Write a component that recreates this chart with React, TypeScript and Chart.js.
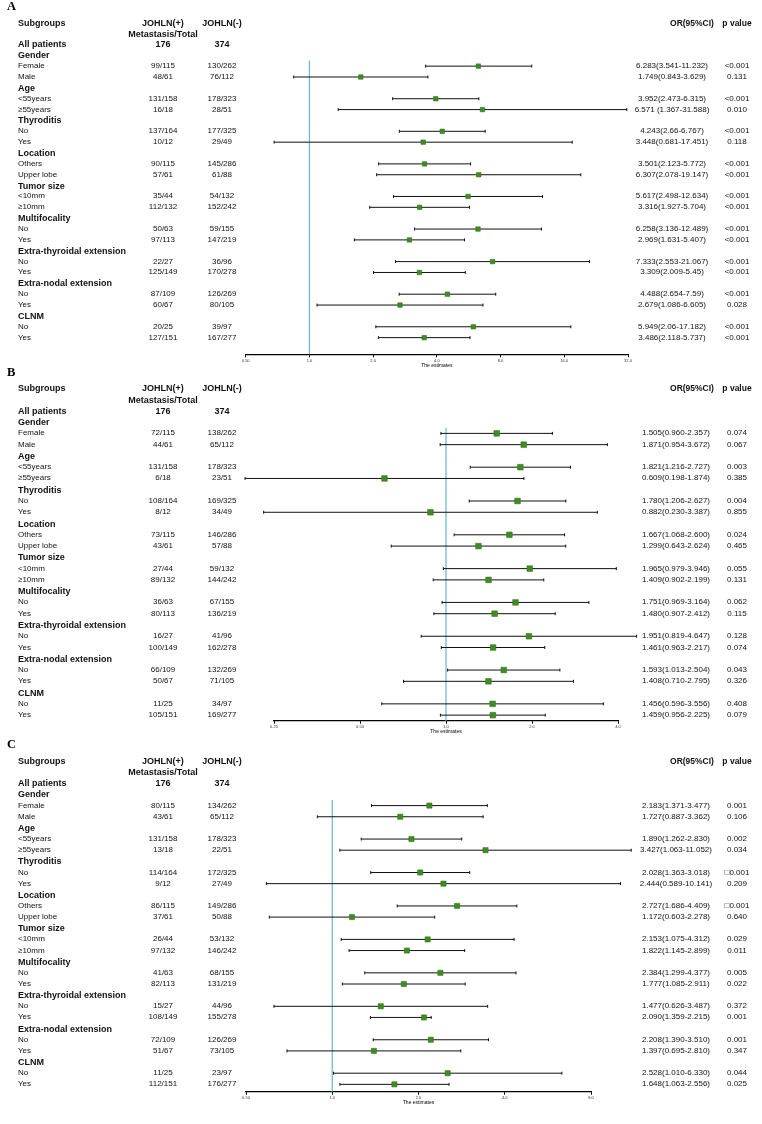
import { useEffect, useRef, useState } from "react";
import { Chart, registerables } from "chart.js";

Chart.register(...registerables);

// ---------- shared row structure ----------
const groups = [
  "Gender",
  "Age",
  "Thyroditis",
  "Location",
  "Tumor size",
  "Multifocality",
  "Extra-thyroidal extension",
  "Extra-nodal extension",
  "CLNM",
];
const levels = [
  ["Female", "Male"],
  ["<55years", "≥55years"],
  ["No", "Yes"],
  ["Others", "Upper lobe"],
  ["<10mm", "≥10mm"],
  ["No", "Yes"],
  ["No", "Yes"],
  ["No", "Yes"],
  ["No", "Yes"],
];
const totalPos = "176";
const totalNeg = "374";

// ---------- panel A ----------
const posA = ["99/115", "48/61", "131/158", "16/18", "137/164", "10/12", "90/115", "57/61", "35/44", "112/132", "50/63", "97/113", "22/27", "125/149", "87/109", "60/67", "20/25", "127/151"];
const negA = ["130/262", "76/112", "178/323", "28/51", "177/325", "29/49", "145/286", "61/88", "54/132", "152/242", "59/155", "147/219", "36/96", "170/278", "126/269", "80/105", "39/97", "167/277"];
const orA = [6.283, 1.749, 3.952, 6.571, 4.243, 3.448, 3.501, 6.307, 5.617, 3.316, 6.258, 2.969, 7.333, 3.309, 4.488, 2.679, 5.949, 3.486];
const loA = [3.541, 0.843, 2.473, 1.367, 2.66, 0.681, 2.123, 2.078, 2.498, 1.927, 3.136, 1.631, 2.553, 2.009, 2.654, 1.086, 2.06, 2.118];
const hiA = [11.232, 3.629, 6.315, 31.588, 6.767, 17.451, 5.772, 19.147, 12.634, 5.704, 12.489, 5.407, 21.067, 5.45, 7.59, 6.605, 17.182, 5.737];
const ciA = ["6.283(3.541-11.232)", "1.749(0.843-3.629)", "3.952(2.473-6.315)", "6.571 (1.367-31.588)", "4.243(2.66-6.767)", "3.448(0.681-17.451)", "3.501(2.123-5.772)", "6.307(2.078-19.147)", "5.617(2.498-12.634)", "3.316(1.927-5.704)", "6.258(3.136-12.489)", "2.969(1.631-5.407)", "7.333(2.553-21.067)", "3.309(2.009-5.45)", "4.488(2.654-7.59)", "2.679(1.086-6.605)", "5.949(2.06-17.182)", "3.486(2.118-5.737)"];
const pA = ["<0.001", "0.131", "<0.001", "0.010", "<0.001", "0.118", "<0.001", "<0.001", "<0.001", "<0.001", "<0.001", "<0.001", "<0.001", "<0.001", "<0.001", "0.028", "<0.001", "<0.001"];
const ticksA = [0.5, 1, 2, 4, 8, 16, 32];

// ---------- panel B ----------
const posB = ["72/115", "44/61", "131/158", "6/18", "108/164", "8/12", "73/115", "43/61", "27/44", "89/132", "36/63", "80/113", "16/27", "100/149", "66/109", "50/67", "11/25", "105/151"];
const negB = ["138/262", "65/112", "178/323", "23/51", "169/325", "34/49", "146/286", "57/88", "59/132", "144/242", "67/155", "136/219", "41/96", "162/278", "132/269", "71/105", "34/97", "169/277"];
const orB = [1.505, 1.871, 1.821, 0.609, 1.78, 0.882, 1.667, 1.299, 1.965, 1.409, 1.751, 1.48, 1.951, 1.461, 1.593, 1.408, 1.456, 1.459];
const loB = [0.96, 0.954, 1.216, 0.198, 1.206, 0.23, 1.068, 0.643, 0.979, 0.902, 0.969, 0.907, 0.819, 0.963, 1.013, 0.71, 0.596, 0.956];
const hiB = [2.357, 3.672, 2.727, 1.874, 2.627, 3.387, 2.6, 2.624, 3.946, 2.199, 3.164, 2.412, 4.647, 2.217, 2.504, 2.795, 3.556, 2.225];
const ciB = ["1.505(0.960-2.357)", "1.871(0.954-3.672)", "1.821(1.216-2.727)", "0.609(0.198-1.874)", "1.780(1.206-2.627)", "0.882(0.230-3.387)", "1.667(1.068-2.600)", "1.299(0.643-2.624)", "1.965(0.979-3.946)", "1.409(0.902-2.199)", "1.751(0.969-3.164)", "1.480(0.907-2.412)", "1.951(0.819-4.647)", "1.461(0.963-2.217)", "1.593(1.013-2.504)", "1.408(0.710-2.795)", "1.456(0.596-3.556)", "1.459(0.956-2.225)"];
const pB = ["0.074", "0.067", "0.003", "0.385", "0.004", "0.855", "0.024", "0.465", "0.055", "0.131", "0.062", "0.115", "0.128", "0.074", "0.043", "0.326", "0.408", "0.079"];
const ticksB = [0.25, 0.5, 1, 2, 4];

// ---------- panel C ----------
const posC = ["80/115", "43/61", "131/158", "13/18", "114/164", "9/12", "86/115", "37/61", "26/44", "97/132", "41/63", "82/113", "15/27", "108/149", "72/109", "51/67", "11/25", "112/151"];
const negC = ["134/262", "65/112", "178/323", "22/51", "172/325", "27/49", "149/286", "50/88", "53/132", "146/242", "68/155", "131/219", "44/96", "155/278", "126/269", "73/105", "23/97", "176/277"];
const orC = [2.183, 1.727, 1.89, 3.427, 2.028, 2.444, 2.727, 1.172, 2.153, 1.822, 2.384, 1.777, 1.477, 2.09, 2.208, 1.397, 2.528, 1.648];
const loC = [1.371, 0.887, 1.262, 1.063, 1.363, 0.589, 1.686, 0.603, 1.075, 1.145, 1.299, 1.085, 0.626, 1.359, 1.39, 0.695, 1.01, 1.063];
const hiC = [3.477, 3.362, 2.83, 11.052, 3.018, 10.141, 4.409, 2.278, 4.312, 2.899, 4.377, 2.911, 3.487, 2.215, 3.51, 2.81, 6.33, 2.556];
const ciC = ["2.183(1.371-3.477)", "1.727(0.887-3.362)", "1.890(1.262-2.830)", "3.427(1.063-11.052)", "2.028(1.363-3.018)", "2.444(0.589-10.141)", "2.727(1.686-4.409)", "1.172(0.603-2.278)", "2.153(1.075-4.312)", "1.822(1.145-2.899)", "2.384(1.299-4.377)", "1.777(1.085-2.911)", "1.477(0.626-3.487)", "2.090(1.359-2.215)", "2.208(1.390-3.510)", "1.397(0.695-2.810)", "2.528(1.010-6.330)", "1.648(1.063-2.556)"];
const pC = ["0.001", "0.106", "0.002", "0.034", "□0.001", "0.209", "□0.001", "0.640", "0.029", "0.011", "0.005", "0.022", "0.372", "0.001", "0.001", "0.347", "0.044", "0.025"];
const ticksC = [0.5, 1, 2, 4, 8];

// ---------- styling ----------
const FONT = '"Liberation Sans", Arial, Helvetica, sans-serif';
const SERIF = '"Liberation Serif", "Times New Roman", serif';
const GREEN = "#3f8c22";
const TEAL = "#63b8c8";
const INK = "#111";

type PanelCfg = {
  letter: string;
  letterY: number;
  top: number;
  height: number;
  row0: number;
  rowH: number;
  axisY: number;
  left: number;
  right: number;
  min: number;
  max: number;
  ticks: number[];
  pos: string[];
  neg: string[];
  or: number[];
  lo: number[];
  hi: number[];
  ci: string[];
  p: string[];
  boxR: number;
  ciX: number;
};

const panels: PanelCfg[] = [
  { letter: "A", letterY: 6, top: 0, height: 370, row0: 22.7, rowH: 10.86, axisY: 354.3, left: 245.7, right: 628, min: 0.5, max: 32, ticks: ticksA, pos: posA, neg: negA, or: orA, lo: loA, hi: hiA, ci: ciA, p: pA, boxR: 3.2, ciX: 672 },
  { letter: "B", letterY: 372, top: 368, height: 372, row0: 388.3, rowH: 11.27, axisY: 720.7, left: 274, right: 618, min: 0.25, max: 4, ticks: ticksB, pos: posB, neg: negB, or: orB, lo: loB, hi: hiB, ci: ciB, p: pB, boxR: 4, ciX: 676 },
  { letter: "C", letterY: 744, top: 738, height: 386, row0: 761, rowH: 11.15, axisY: 1091.7, left: 246, right: 591, min: 0.5, max: 8, ticks: ticksC, pos: posC, neg: negC, or: orC, lo: loC, hi: hiC, ci: ciC, p: pC, boxR: 3.7, ciX: 676 },
];

const rowOf = (j: number) => 4 + 3 * Math.floor(j / 2) + (j % 2);
const groupRow = (g: number) => 3 + 3 * g;
const fmtTick = (v: number) => (v < 1 ? v.toFixed(2) : v.toFixed(1));

function T({ x, y, text, bold, center, size }: { x: number; y: number; text: string; bold?: boolean; center?: boolean; size?: number }) {
  return (
    <span
      style={{
        position: "absolute",
        left: x,
        top: y,
        transform: `translate(${center ? "-50%" : "0"}, -50%)`,
        whiteSpace: "nowrap",
        lineHeight: 1,
        fontFamily: FONT,
        fontSize: size ?? (bold ? 9 : 8),
        fontWeight: bold ? 700 : 400,
        color: INK,
      }}
    >
      {text}
    </span>
  );
}

function Panel({ cfg }: { cfg: PanelCfg }) {
  const ref = useRef<HTMLCanvasElement>(null);
  const [ys, setYs] = useState<number[] | null>(null);

  useEffect(() => {
    const AXIS_H = 14;
    const padTop = cfg.row0 - cfg.rowH - cfg.top;
    const yMax = (cfg.axisY - cfg.row0) / cfg.rowH;
    const padBottom = cfg.top + cfg.height - cfg.axisY - AXIS_H;

    const refLine = {
      id: "refLine",
      beforeDatasetsDraw(chart: any) {
        const { ctx, scales, chartArea } = chart;
        const x = scales.x.getPixelForValue(1);
        const y0 = scales.y.getPixelForValue(3.5);
        ctx.save();
        ctx.strokeStyle = TEAL;
        ctx.lineWidth = 1.2;
        ctx.beginPath();
        ctx.moveTo(x, y0);
        ctx.lineTo(x, chartArea.bottom);
        ctx.stroke();
        ctx.restore();
      },
    };

    const whiskers = {
      id: "whiskers",
      beforeDatasetsDraw(chart: any) {
        const { ctx, scales } = chart;
        ctx.save();
        ctx.strokeStyle = INK;
        ctx.lineWidth = 1;
        cfg.lo.forEach((lo, j) => {
          const yy = scales.y.getPixelForValue(rowOf(j));
          const x1 = scales.x.getPixelForValue(lo);
          const x2 = scales.x.getPixelForValue(cfg.hi[j]);
          ctx.beginPath();
          ctx.moveTo(x1, yy);
          ctx.lineTo(x2, yy);
          ctx.moveTo(x1, yy - 1.5);
          ctx.lineTo(x1, yy + 1.5);
          ctx.moveTo(x2, yy - 1.5);
          ctx.lineTo(x2, yy + 1.5);
          ctx.stroke();
        });
        ctx.restore();
      },
    };

    const chart = new Chart(ref.current as HTMLCanvasElement, {
      type: "scatter",
      data: {
        datasets: [
          {
            data: cfg.or.map((v, j) => ({ x: v, y: rowOf(j) })),
            pointStyle: "rect",
            pointRadius: cfg.boxR,
            pointHoverRadius: cfg.boxR,
            backgroundColor: GREEN,
            borderColor: "#2f6e18",
            borderWidth: 0.5,
            clip: false,
          } as any,
        ],
      },
      options: {
        responsive: false,
        animation: false,
        events: [],
        layout: { padding: { left: cfg.left, right: 762 - cfg.right, top: padTop, bottom: padBottom } },
        plugins: { legend: { display: false }, tooltip: { enabled: false } },
        scales: {
          x: {
            type: "logarithmic",
            min: cfg.min,
            max: cfg.max,
            afterBuildTicks: (s: any) => {
              s.ticks = cfg.ticks.map((v) => ({ value: v }));
            },
            afterFit: (s: any) => {
              s.height = AXIS_H;
            },
            ticks: {
              autoSkip: false,
              maxRotation: 0,
              padding: 1,
              color: "#333",
              font: { size: 4, family: FONT },
              callback: (v: any) => fmtTick(Number(v)),
            },
            grid: { display: true, drawOnChartArea: false, drawTicks: true, tickLength: 3, color: "#000", lineWidth: 1 },
            border: { display: true, color: "#000", width: 1.2 },
            title: { display: true, text: "The estimates", color: "#000", font: { size: 5, family: FONT }, padding: { top: 0, bottom: 0 } },
          } as any,
          y: { type: "linear", display: false, reverse: true, min: -1, max: yMax },
        },
      },
      plugins: [refLine, whiskers],
    });

    const yScale = chart.scales.y;
    setYs(Array.from({ length: 30 }, (_, i) => cfg.top + yScale.getPixelForValue(i)));
    return () => chart.destroy();
  }, []);

  const cols = { sub: 18, pos: 163, neg: 222, orHead: 692, pHead: 737, p: 737 };

  return (
    <>
      <canvas ref={ref} width={762} height={cfg.height} style={{ position: "absolute", left: 0, top: cfg.top }} />
      <span
        style={{
          position: "absolute",
          left: 7,
          top: cfg.letterY,
          transform: "translateY(-50%)",
          lineHeight: 1,
          fontFamily: SERIF,
          fontWeight: 700,
          fontSize: 12.5,
          color: "#000",
        }}
      >
        {cfg.letter}
      </span>
      {ys && (
        <>
          <T x={cols.sub} y={ys[0]} text="Subgroups" bold />
          <T x={cols.pos} y={ys[0]} text="JOHLN(+)" bold center />
          <T x={cols.neg} y={ys[0]} text="JOHLN(-)" bold center />
          <T x={cols.orHead} y={ys[0]} text="OR(95%CI)" bold center size={8.5} />
          <T x={cols.pHead} y={ys[0]} text="p value" bold center size={8.5} />
          <T x={cols.pos} y={ys[1]} text="Metastasis/Total" bold center />
          <T x={cols.sub} y={ys[2]} text="All patients" bold />
          <T x={cols.pos} y={ys[2]} text={totalPos} bold center />
          <T x={cols.neg} y={ys[2]} text={totalNeg} bold center />
          {groups.map((g, gi) => (
            <T key={"g" + gi} x={cols.sub} y={ys[groupRow(gi)]} text={g} bold />
          ))}
          {cfg.pos.map((_, j) => {
            const r = rowOf(j);
            const name = levels[Math.floor(j / 2)][j % 2];
            return (
              <span key={"r" + j}>
                <T x={cols.sub} y={ys[r]} text={name} />
                <T x={cols.pos} y={ys[r]} text={cfg.pos[j]} center />
                <T x={cols.neg} y={ys[r]} text={cfg.neg[j]} center />
                <T x={cfg.ciX} y={ys[r]} text={cfg.ci[j]} center />
                <T x={cols.p} y={ys[r]} text={cfg.p[j]} center />
              </span>
            );
          })}
        </>
      )}
    </>
  );
}

export default function App() {
  return (
    <div style={{ position: "absolute", left: 0, top: 0, width: 762, height: 1124, background: "#fff", overflow: "hidden" }}>
      {panels.map((p) => (
        <Panel key={p.letter} cfg={p} />
      ))}
    </div>
  );
}
